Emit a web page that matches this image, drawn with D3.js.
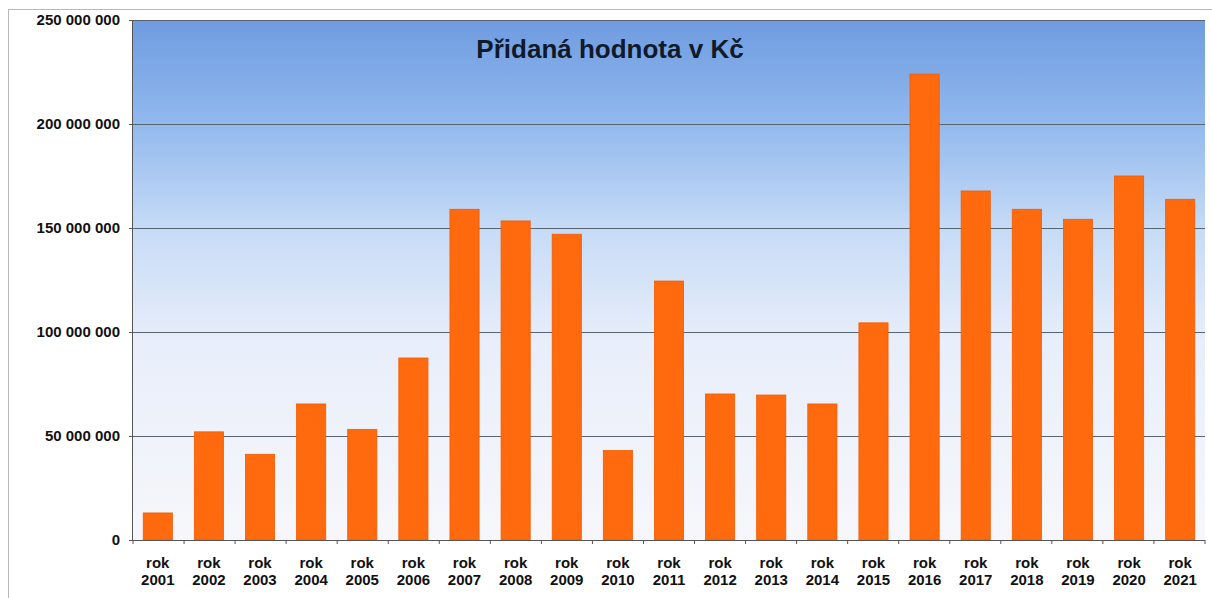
<!DOCTYPE html>
<html>
<head>
<meta charset="utf-8">
<style>
body { margin: 0; background: #fff; }
.axis text { font: bold 15px "Liberation Sans", Arial, sans-serif; fill: #111; }
.axis path, .axis line { stroke: #555; }
.grid line { stroke: #5a6470; stroke-width: 1; }
.grid path { display: none; }
</style>
</head>
<body>
<svg width="1212" height="598"></svg>
<script src="https://cdn.jsdelivr.net/npm/d3@7"></script>
<script>
var years = ["2001","2002","2003","2004","2005","2006","2007","2008","2009","2010","2011",
             "2012","2013","2014","2015","2016","2017","2018","2019","2020","2021"];
var values = [13000000, 52000000, 41200000, 65400000, 53200000, 87500000, 159000000, 153400000,
              147000000, 43000000, 124500000, 70200000, 69700000, 65400000, 104400000, 224000000,
              167800000, 159000000, 154200000, 175000000, 163800000];
var yTicks = [0, 50000000, 100000000, 150000000, 200000000, 250000000];
var title = "Přidaná hodnota v Kč";

var svg = d3.select("svg"),
    margin = {top: 20, right: 7, bottom: 58, left: 133},
    width = +svg.attr("width") - margin.left - margin.right,
    height = +svg.attr("height") - margin.top - margin.bottom;

// outer frame
svg.append("rect")
    .attr("x", 8.5).attr("y", 9.5)
    .attr("width", 1210).attr("height", 600)
    .attr("fill", "none").attr("stroke", "#b8b8b8");

var defs = svg.append("defs");
var grad = defs.append("linearGradient")
    .attr("id", "bg").attr("x1", 0).attr("y1", 0).attr("x2", 0).attr("y2", 1);
grad.append("stop").attr("offset", "0%").attr("stop-color", "#6f9ce0");
grad.append("stop").attr("offset", "20%").attr("stop-color", "#92b9ee");
grad.append("stop").attr("offset", "40%").attr("stop-color", "#c6dbf6");
grad.append("stop").attr("offset", "62%").attr("stop-color", "#e8eefa");
grad.append("stop").attr("offset", "100%").attr("stop-color", "#f7f7fb");

var g = svg.append("g").attr("transform", "translate(" + margin.left + "," + margin.top + ")");

var x = d3.scaleBand().domain(years).range([0, width]).paddingInner(0.43).paddingOuter(0.2);
var y = d3.scaleLinear().domain([0, 250000000]).range([height, 0]);

g.append("rect")
    .attr("width", width).attr("height", height)
    .attr("fill", "url(#bg)");

g.append("g")
    .attr("class", "grid")
    .call(d3.axisLeft(y).tickValues(yTicks.slice(1)).tickSize(-width).tickFormat(""));

g.selectAll(".bar")
  .data(years)
  .enter().append("rect")
    .attr("class", "bar")
    .attr("x", function(d) { return x(d); })
    .attr("y", function(d, i) { return y(values[i]); })
    .attr("width", x.bandwidth())
    .attr("height", function(d, i) { return height - y(values[i]); })
    .attr("fill", "#ff6a0e")
    .attr("stroke", "#f25a00")
    .attr("stroke-width", 0.8);

var fmt = function(v) { return d3.format(",")(v).replace(/,/g, " "); };

g.append("g")
    .attr("class", "axis")
    .call(d3.axisLeft(y).tickValues(yTicks).tickSize(4).tickPadding(9).tickFormat(fmt))
    .call(function(a) { a.select(".domain").attr("d", "M-0.5," + height + "V0"); });

var xa = g.append("g")
    .attr("class", "axis")
    .attr("transform", "translate(0," + height + ")")
    .call(d3.axisBottom(x).tickSize(0).tickFormat(""));
xa.select(".domain").attr("d", "M0,0.5H" + width);

// ticks between categories
xa.selectAll(".sep")
  .data(d3.range(years.length + 1))
  .enter().append("line")
    .attr("x1", function(i) { return i * width / years.length; })
    .attr("x2", function(i) { return i * width / years.length; })
    .attr("y1", 0).attr("y2", 4)
    .attr("stroke", "#555");

xa.selectAll(".tick").each(function(d) {
  var t = d3.select(this).select("text").attr("y", 0).text(null);
  t.append("tspan").attr("x", 0).attr("dy", "1.85em").text("rok");
  t.append("tspan").attr("x", 0).attr("dy", "1.15em").text(d);
});

g.append("text")
    .attr("x", 477)
    .attr("y", 38)
    .attr("text-anchor", "middle")
    .style("font", "bold 26px 'Liberation Sans', Arial, sans-serif")
    .attr("fill", "#0f1a2a")
    .text(title);
</script>
</body>
</html>
